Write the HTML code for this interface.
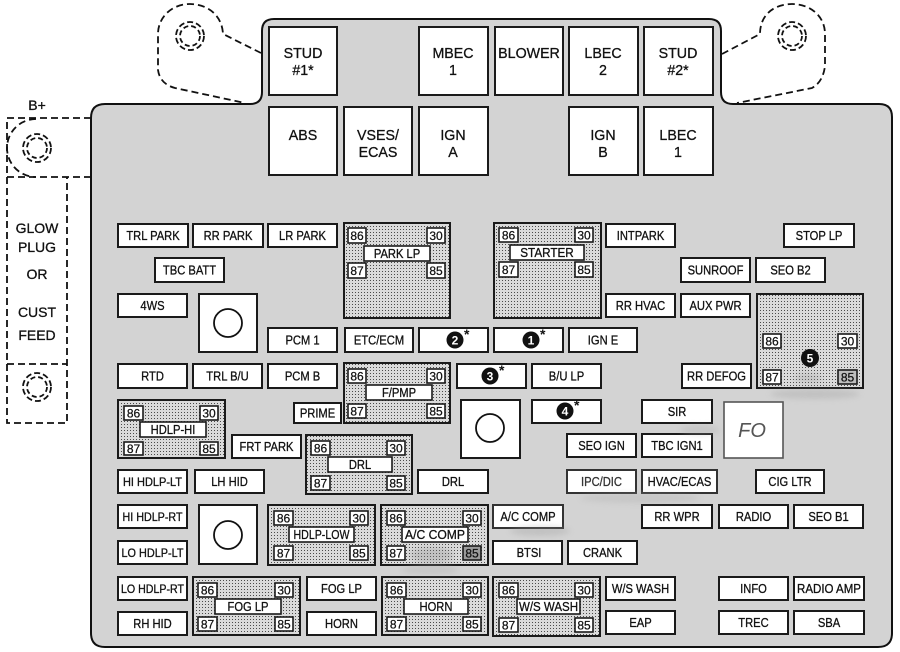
<!DOCTYPE html>
<html><head><meta charset="utf-8">
<style>
html,body{margin:0;padding:0;background:#fff;}
svg{display:block;}
.b{fill:#fff;stroke:#1a1a1a;stroke-width:2;}
.t{font-family:"Liberation Sans",Arial,sans-serif;font-size:13px;fill:#111;text-anchor:middle;stroke:#111;stroke-width:0.3px;}
.bt{font-family:"Liberation Sans",Arial,sans-serif;font-size:15px;fill:#111;text-anchor:middle;stroke:#111;stroke-width:0.3px;}
.n{font-family:"Liberation Sans",Arial,sans-serif;font-size:12px;fill:#111;text-anchor:middle;stroke:#111;stroke-width:0.25px;}
.tm{fill:#fff;stroke:#1a1a1a;stroke-width:1.6;}
.rl{fill:url(#dots);stroke:#1a1a1a;stroke-width:2;}
.d{fill:none;stroke:#111;stroke-width:1.8;stroke-dasharray:7 4;}
.lt{font-family:"Liberation Sans",Arial,sans-serif;font-size:14px;fill:#111;text-anchor:middle;stroke:#111;stroke-width:0.3px;}
.nc{font-family:"Liberation Sans",Arial,sans-serif;font-size:12px;font-weight:bold;fill:#fff;text-anchor:middle;}
.as{font-family:"Liberation Sans",Arial,sans-serif;font-size:14px;font-weight:bold;fill:#111;}
</style></head>
<body>
<svg width="900" height="652" viewBox="0 0 900 652" xmlns="http://www.w3.org/2000/svg">
<defs>
<pattern id="dots" width="3" height="3" patternUnits="userSpaceOnUse">
<rect width="3" height="3" fill="#dadada"/><rect x="1" y="1" width="1" height="1" fill="#4a4a4a"/>
</pattern>
<filter id="bl" x="-50%" y="-50%" width="200%" height="200%"><feGaussianBlur stdDeviation="3"/></filter>
</defs>

<!-- dashed lugs top -->
<path class="d" d="M261,53 L223,34 C222,14 206,4 190,4 C172,4 158,17 158,34 L158,70 Q160,84 175,88 L245,103"/>
<circle class="d" cx="190" cy="36" r="14" style="stroke-dasharray:6 3"/>
<circle class="d" cx="190" cy="36" r="10" style="stroke-dasharray:5 3"/>
<path class="d" d="M722,54 L760,34 C760,14 775,4 792,4 C810,4 825,16 825,34 L825,66 Q823,82 812,88 L737,103"/>
<circle class="d" cx="792" cy="36" r="14" style="stroke-dasharray:6 3"/>
<circle class="d" cx="792" cy="36" r="10" style="stroke-dasharray:5 3"/>

<!-- left B+ dashed area -->
<text class="lt" x="37" y="110">B+</text>
<path class="d" d="M91,118 L7,118 L7,423 L67,423 L67,177"/>
<path class="d" d="M7,177 L91,177"/>
<path class="d" d="M7,364 L67,364"/>
<path class="d" d="M36,119 A29,29 0 0 0 36,177"/>
<circle class="d" cx="37" cy="148" r="14" style="stroke-dasharray:6 3"/>
<circle class="d" cx="37" cy="148" r="10" style="stroke-dasharray:5 3"/>
<circle class="d" cx="37" cy="387" r="14" style="stroke-dasharray:6 3"/>
<circle class="d" cx="37" cy="387" r="10" style="stroke-dasharray:5 3"/>
<text class="lt" x="37" y="233">GLOW</text>
<text class="lt" x="37" y="252">PLUG</text>
<text class="lt" x="37" y="279">OR</text>
<text class="lt" x="37" y="317">CUST</text>
<text class="lt" x="37" y="340">FEED</text>

<!-- main panel -->
<path d="M105,104 L250,104 Q262,104 262,92 L262,31 Q262,19 274,19 L709,19 Q721,19 721,31 L721,92 Q721,104 733,104 L879,104 Q892,104 892,117 L892,633 Q892,647 878,647 L105,647 Q91,647 91,633 L91,118 Q91,104 105,104 Z" fill="#d3d3d3" stroke="#111" stroke-width="2"/>

<!-- big top boxes -->
<rect class="b" x="269" y="27" width="68" height="68"/>
<text class="bt" transform="translate(303,58) scale(0.95,1)">STUD</text>
<text class="bt" transform="translate(303,75) scale(0.95,1)">#1*</text>
<rect class="b" x="419" y="27" width="69" height="68"/>
<text class="bt" transform="translate(453,58) scale(0.95,1)">MBEC</text>
<text class="bt" transform="translate(453,75) scale(0.95,1)">1</text>
<rect class="b" x="495" y="27" width="68" height="68"/>
<text class="bt" transform="translate(529,58) scale(0.95,1)">BLOWER</text>
<rect class="b" x="569" y="27" width="69" height="68"/>
<text class="bt" transform="translate(603,58) scale(0.95,1)">LBEC</text>
<text class="bt" transform="translate(603,75) scale(0.95,1)">2</text>
<rect class="b" x="644" y="27" width="69" height="68"/>
<text class="bt" transform="translate(678,58) scale(0.95,1)">STUD</text>
<text class="bt" transform="translate(678,75) scale(0.95,1)">#2*</text>

<rect class="b" x="269" y="107" width="68" height="68"/>
<text class="bt" transform="translate(303,140) scale(0.95,1)">ABS</text>
<rect class="b" x="344" y="107" width="68" height="68"/>
<text class="bt" transform="translate(378,140) scale(0.95,1)">VSES/</text>
<text class="bt" transform="translate(378,157) scale(0.95,1)">ECAS</text>
<rect class="b" x="419" y="107" width="69" height="68"/>
<text class="bt" transform="translate(453,140) scale(0.95,1)">IGN</text>
<text class="bt" transform="translate(453,157) scale(0.95,1)">A</text>
<rect class="b" x="569" y="107" width="69" height="68"/>
<text class="bt" transform="translate(603,140) scale(0.95,1)">IGN</text>
<text class="bt" transform="translate(603,157) scale(0.95,1)">B</text>
<rect class="b" x="644" y="107" width="69" height="68"/>
<text class="bt" transform="translate(678,140) scale(0.95,1)">LBEC</text>
<text class="bt" transform="translate(678,157) scale(0.95,1)">1</text>

<!-- fuses -->
<rect class="b" x="118" y="224" width="70" height="23"/><text class="t" transform="translate(153,240) scale(0.86,1)">TRL PARK</text>
<rect class="b" x="193" y="224" width="70" height="23"/><text class="t" transform="translate(228,240) scale(0.86,1)">RR PARK</text>
<rect class="b" x="268" y="224" width="69" height="23"/><text class="t" transform="translate(302.5,240) scale(0.86,1)">LR PARK</text>
<rect class="b" x="606" y="224" width="69" height="23"/><text class="t" transform="translate(640.5,240) scale(0.86,1)">INTPARK</text>
<rect class="b" x="784" y="224" width="70" height="23"/><text class="t" transform="translate(819,240) scale(0.86,1)">STOP LP</text>

<rect class="b" x="155" y="258" width="69" height="24"/><text class="t" transform="translate(189.5,274.5) scale(0.86,1)">TBC BATT</text>
<rect class="b" x="681" y="258" width="69" height="24"/><text class="t" transform="translate(715.5,274.5) scale(0.86,1)">SUNROOF</text>
<rect class="b" x="756" y="258" width="69" height="24"/><text class="t" transform="translate(790.5,274.5) scale(0.86,1)">SEO B2</text>

<rect class="b" x="118" y="294" width="69" height="23"/><text class="t" transform="translate(152.5,310) scale(0.86,1)">4WS</text>
<rect class="b" x="606" y="294" width="69" height="23"/><text class="t" transform="translate(640.5,310) scale(0.86,1)">RR HVAC</text>
<rect class="b" x="681" y="294" width="69" height="23"/><text class="t" transform="translate(715.5,310) scale(0.86,1)">AUX PWR</text>

<rect class="b" x="268" y="328" width="69" height="24"/><text class="t" transform="translate(302.5,344.5) scale(0.86,1)">PCM 1</text>
<rect class="b" x="345" y="328" width="68" height="24"/><text class="t" transform="translate(379,344.5) scale(0.86,1)">ETC/ECM</text>
<rect class="b" x="419" y="328" width="69" height="24"/>
<rect class="b" x="494" y="328" width="69" height="24"/>
<rect class="b" x="569" y="328" width="68" height="24"/><text class="t" transform="translate(603,344.5) scale(0.86,1)">IGN E</text>

<rect class="b" x="118" y="364" width="69" height="24"/><text class="t" transform="translate(152.5,380.5) scale(0.86,1)">RTD</text>
<rect class="b" x="193" y="364" width="69" height="24"/><text class="t" transform="translate(227.5,380.5) scale(0.86,1)">TRL B/U</text>
<rect class="b" x="268" y="364" width="69" height="24"/><text class="t" transform="translate(302.5,380.5) scale(0.86,1)">PCM B</text>
<rect class="b" x="457" y="364" width="69" height="24"/>
<rect class="b" x="532" y="364" width="69" height="24"/><text class="t" transform="translate(566.5,380.5) scale(0.86,1)">B/U LP</text>
<rect class="b" x="682" y="364" width="69" height="24"/><text class="t" transform="translate(716.5,380.5) scale(0.86,1)">RR DEFOG</text>

<rect class="b" x="294" y="403" width="47" height="20"/><text class="t" transform="translate(317.5,417.5) scale(0.86,1)">PRIME</text>
<rect class="b" x="532" y="400" width="69" height="23"/>
<rect class="b" x="642" y="400" width="70" height="23"/><text class="t" transform="translate(677,416) scale(0.86,1)">SIR</text>
<rect class="b" x="232" y="435" width="69" height="23"/><text class="t" transform="translate(266.5,451) scale(0.86,1)">FRT PARK</text>
<rect class="b" x="567" y="434" width="69" height="23"/><text class="t" transform="translate(601.5,450) scale(0.86,1)">SEO IGN</text>
<rect class="b" x="642" y="434" width="70" height="23"/><text class="t" transform="translate(677,450) scale(0.86,1)">TBC IGN1</text>

<rect class="b" x="118" y="470" width="69" height="23"/><text class="t" x="152.5" y="486" textLength="59" lengthAdjust="spacingAndGlyphs" style="font-size:12px">HI HDLP-LT</text>
<rect class="b" x="195" y="470" width="69" height="23"/><text class="t" transform="translate(229.5,486) scale(0.86,1)">LH HID</text>
<rect class="b" x="418" y="470" width="70" height="23"/><text class="t" transform="translate(453,486) scale(0.86,1)">DRL</text>
<rect class="b" x="567" y="470" width="69" height="23" style="stroke:#333"/><text class="t" transform="translate(601.5,486) scale(0.86,1)" style="fill:#333;stroke:#333">IPC/DIC</text>
<rect class="b" x="642" y="470" width="75" height="23" style="stroke:#333"/><text class="t" transform="translate(679.5,486) scale(0.86,1)">HVAC/ECAS</text>
<rect class="b" x="756" y="470" width="68" height="23"/><text class="t" transform="translate(790,486) scale(0.86,1)">CIG LTR</text>

<rect class="b" x="118" y="505" width="69" height="23"/><text class="t" x="152.5" y="521" textLength="60" lengthAdjust="spacingAndGlyphs" style="font-size:12px">HI HDLP-RT</text>
<rect class="b" x="493" y="505" width="70" height="23" style="stroke:#333"/><text class="t" transform="translate(528,521) scale(0.86,1)">A/C COMP</text>
<rect class="b" x="642" y="505" width="70" height="23"/><text class="t" transform="translate(677,521) scale(0.86,1)">RR WPR</text>
<rect class="b" x="719" y="505" width="69" height="23"/><text class="t" transform="translate(753.5,521) scale(0.86,1)">RADIO</text>
<rect class="b" x="794" y="505" width="69" height="23"/><text class="t" transform="translate(828.5,521) scale(0.86,1)">SEO B1</text>

<rect class="b" x="118" y="541" width="69" height="23"/><text class="t" x="152.5" y="557" textLength="62" lengthAdjust="spacingAndGlyphs" style="font-size:12px">LO HDLP-LT</text>
<rect class="b" x="493" y="541" width="69" height="23"/><text class="t" transform="translate(529,557) scale(0.86,1)">BTSI</text>
<rect class="b" x="568" y="541" width="69" height="23"/><text class="t" transform="translate(602.5,557) scale(0.86,1)">CRANK</text>

<rect class="b" x="118" y="577" width="69" height="23"/><text class="t" x="152.5" y="593" textLength="63" lengthAdjust="spacingAndGlyphs" style="font-size:12px">LO HDLP-RT</text>
<rect class="b" x="307" y="577" width="69" height="23"/><text class="t" transform="translate(341.5,593) scale(0.86,1)">FOG LP</text>
<rect class="b" x="606" y="577" width="69" height="23"/><text class="t" transform="translate(640.5,593) scale(0.86,1)">W/S WASH</text>
<rect class="b" x="719" y="577" width="69" height="23"/><text class="t" transform="translate(753.5,593) scale(0.86,1)">INFO</text>
<rect class="b" x="794" y="577" width="70" height="23"/><text class="t" x="829" y="593" textLength="64" lengthAdjust="spacingAndGlyphs" style="font-size:12.5px">RADIO AMP</text>

<rect class="b" x="118" y="612" width="69" height="23"/><text class="t" transform="translate(152.5,628) scale(0.86,1)">RH HID</text>
<rect class="b" x="307" y="612" width="69" height="23"/><text class="t" transform="translate(341.5,628) scale(0.86,1)">HORN</text>
<rect class="b" x="606" y="611" width="69" height="23"/><text class="t" transform="translate(640.5,627) scale(0.86,1)">EAP</text>
<rect class="b" x="719" y="611" width="69" height="23"/><text class="t" transform="translate(753.5,627) scale(0.86,1)">TREC</text>
<rect class="b" x="794" y="611" width="70" height="23"/><text class="t" transform="translate(829,627) scale(0.86,1)">SBA</text>

<!-- circle squares -->
<rect class="b" x="199" y="294" width="58" height="58"/><circle cx="228" cy="323" r="14" fill="#fff" stroke="#111" stroke-width="1.8"/>
<rect class="b" x="461" y="400" width="59" height="58"/><circle cx="490" cy="428" r="14" fill="#fff" stroke="#111" stroke-width="1.8"/>
<rect class="b" x="199" y="505" width="58" height="59"/><circle cx="228" cy="535" r="14" fill="#fff" stroke="#111" stroke-width="1.8"/>

<!-- smudged box right of SIR -->
<rect x="724" y="402" width="59" height="56" fill="#fff" stroke="#555" stroke-width="1.6"/>
<text x="752" y="437" style="font-family:'Liberation Sans',sans-serif;font-size:20px;font-style:italic;fill:#555;text-anchor:middle">FO</text>

<!-- numbered circles -->
<circle cx="455" cy="340" r="8.5" fill="#111"/><text class="nc" x="455" y="344.5">2</text><text class="as" x="464" y="339">*</text>
<circle cx="531" cy="340" r="8.5" fill="#111"/><text class="nc" x="531" y="344.5">1</text><text class="as" x="540" y="339">*</text>
<circle cx="490" cy="376" r="8.5" fill="#111"/><text class="nc" x="490" y="380.5">3</text><text class="as" x="499" y="375">*</text>
<circle cx="565" cy="411" r="8.5" fill="#111"/><text class="nc" x="565" y="415.5">4</text><text class="as" x="574" y="410">*</text>

<!-- relays -->
<!-- PARK LP -->
<rect class="rl" x="344" y="223" width="106" height="95"/>
<rect class="tm" x="348" y="228" width="18" height="15"/><text class="n" x="357" y="240">86</text>
<rect class="tm" x="427" y="228" width="18" height="15"/><text class="n" x="436" y="240">30</text>
<rect class="tm" x="364" y="246" width="66" height="15"/><text class="t" transform="translate(397,258) scale(0.86,1)">PARK LP</text>
<rect class="tm" x="348" y="263" width="18" height="15"/><text class="n" x="357" y="275">87</text>
<rect class="tm" x="427" y="263" width="18" height="15"/><text class="n" x="436" y="275">85</text>

<!-- STARTER -->
<rect class="rl" x="494" y="223" width="107" height="95"/>
<rect class="tm" x="499" y="228" width="19" height="14"/><text class="n" x="508.5" y="239.5">86</text>
<rect class="tm" x="575" y="228" width="18" height="14"/><text class="n" x="584" y="239.5">30</text>
<rect class="tm" x="510" y="245" width="74" height="15"/><text class="t" transform="translate(547,257) scale(0.9,1)">STARTER</text>
<rect class="tm" x="499" y="262" width="19" height="15"/><text class="n" x="508.5" y="274">87</text>
<rect class="tm" x="575" y="262" width="18" height="15"/><text class="n" x="584" y="274">85</text>

<!-- F/PMP -->
<rect class="rl" x="344" y="363" width="106" height="60"/>
<rect class="tm" x="348" y="369" width="18" height="14"/><text class="n" x="357" y="380.5">86</text>
<rect class="tm" x="427" y="369" width="18" height="14"/><text class="n" x="436" y="380.5">30</text>
<rect class="tm" x="366" y="385" width="66" height="15"/><text class="t" transform="translate(399,397) scale(0.86,1)">F/PMP</text>
<rect class="tm" x="348" y="404" width="18" height="14"/><text class="n" x="357" y="415.5">87</text>
<rect class="tm" x="427" y="404" width="18" height="14"/><text class="n" x="436" y="415.5">85</text>

<!-- HDLP-HI -->
<rect class="rl" x="118" y="400" width="107" height="58"/>
<rect class="tm" x="124" y="406" width="19" height="14"/><text class="n" x="133.5" y="417.5">86</text>
<rect class="tm" x="200" y="406" width="18" height="14"/><text class="n" x="209" y="417.5">30</text>
<rect class="tm" x="140" y="422" width="66" height="15"/><text class="t" transform="translate(173,434) scale(0.86,1)">HDLP-HI</text>
<rect class="tm" x="124" y="442" width="19" height="13"/><text class="n" x="133.5" y="453">87</text>
<rect class="tm" x="200" y="442" width="18" height="13"/><text class="n" x="209" y="453">85</text>

<!-- DRL relay -->
<rect class="rl" x="306" y="435" width="106" height="59"/>
<rect class="tm" x="311" y="441" width="19" height="14"/><text class="n" x="320.5" y="452.5">86</text>
<rect class="tm" x="387" y="441" width="18" height="14"/><text class="n" x="396" y="452.5">30</text>
<rect class="tm" x="328" y="457" width="64" height="15"/><text class="t" transform="translate(360,469) scale(0.86,1)">DRL</text>
<rect class="tm" x="311" y="476" width="19" height="14"/><text class="n" x="320.5" y="487.5">87</text>
<rect class="tm" x="387" y="476" width="18" height="14"/><text class="n" x="396" y="487.5">85</text>

<!-- HDLP-LOW -->
<rect class="rl" x="268" y="505" width="107" height="60"/>
<rect class="tm" x="274" y="511" width="19" height="14"/><text class="n" x="283.5" y="522.5">86</text>
<rect class="tm" x="350" y="511" width="18" height="14"/><text class="n" x="359" y="522.5">30</text>
<rect class="tm" x="289" y="527" width="65" height="15"/><text class="t" x="321.5" y="539" textLength="56" lengthAdjust="spacingAndGlyphs">HDLP-LOW</text>
<rect class="tm" x="274" y="546" width="19" height="14"/><text class="n" x="283.5" y="557.5">87</text>
<rect class="tm" x="350" y="546" width="18" height="14"/><text class="n" x="359" y="557.5">85</text>

<!-- A/C COMP relay -->
<rect class="rl" x="381" y="505" width="107" height="60"/>
<rect class="tm" x="387" y="511" width="18" height="14"/><text class="n" x="396" y="522.5">86</text>
<rect class="tm" x="463" y="511" width="18" height="14"/><text class="n" x="472" y="522.5">30</text>
<rect class="tm" x="402" y="527" width="66" height="15"/><text class="t" x="435" y="539" textLength="60" lengthAdjust="spacingAndGlyphs">A/C COMP</text>
<rect class="tm" x="387" y="546" width="18" height="14"/><text class="n" x="396" y="557.5">87</text>
<rect class="tm" x="463" y="546" width="18" height="14" style="fill:#9a9a9a"/><text class="n" x="472" y="557.5">85</text>

<!-- FOG LP relay -->
<rect class="rl" x="193" y="577" width="107" height="58"/>
<rect class="tm" x="198" y="583" width="19" height="14"/><text class="n" x="207.5" y="594.5">86</text>
<rect class="tm" x="275" y="583" width="18" height="14"/><text class="n" x="284" y="594.5">30</text>
<rect class="tm" x="215" y="599" width="66" height="15"/><text class="t" transform="translate(248,611) scale(0.86,1)">FOG LP</text>
<rect class="tm" x="198" y="617" width="19" height="14"/><text class="n" x="207.5" y="628.5">87</text>
<rect class="tm" x="275" y="617" width="18" height="14"/><text class="n" x="284" y="628.5">85</text>

<!-- HORN relay -->
<rect class="rl" x="382" y="577" width="106" height="58"/>
<rect class="tm" x="387" y="583" width="19" height="14"/><text class="n" x="396.5" y="594.5">86</text>
<rect class="tm" x="463" y="583" width="18" height="14"/><text class="n" x="472" y="594.5">30</text>
<rect class="tm" x="404" y="599" width="64" height="15"/><text class="t" transform="translate(436,611) scale(0.86,1)">HORN</text>
<rect class="tm" x="387" y="617" width="19" height="14"/><text class="n" x="396.5" y="628.5">87</text>
<rect class="tm" x="463" y="617" width="18" height="14"/><text class="n" x="472" y="628.5">85</text>

<!-- W/S WASH relay -->
<rect class="rl" x="493" y="577" width="107" height="59"/>
<rect class="tm" x="499" y="583" width="19" height="14"/><text class="n" x="508.5" y="594.5">86</text>
<rect class="tm" x="575" y="583" width="18" height="14"/><text class="n" x="584" y="594.5">30</text>
<rect class="tm" x="517" y="599" width="63" height="15"/><text class="t" x="548.5" y="611" textLength="59" lengthAdjust="spacingAndGlyphs">W/S WASH</text>
<rect class="tm" x="499" y="618" width="19" height="14"/><text class="n" x="508.5" y="629.5">87</text>
<rect class="tm" x="575" y="618" width="18" height="14"/><text class="n" x="584" y="629.5">85</text>

<!-- relay 5 -->
<rect class="rl" x="757" y="294" width="106" height="94"/>
<rect class="tm" x="763" y="334" width="18" height="14"/><text class="n" x="772" y="345.5">86</text>
<rect class="tm" x="838" y="334" width="19" height="14"/><text class="n" x="847.5" y="345.5">30</text>
<rect class="tm" x="763" y="370" width="18" height="14"/><text class="n" x="772" y="381.5">87</text>
<rect class="tm" x="838" y="370" width="19" height="14" style="fill:#bdbdbd"/><text class="n" x="847.5" y="381.5">85</text>
<circle cx="810" cy="358" r="9" fill="#111"/><text class="nc" x="810" y="362.5">5</text>

<!-- smudges (subtle) -->
<g filter="url(#bl)" opacity="0.3">
<ellipse cx="432" cy="555" rx="22" ry="8" fill="#888"/>
<ellipse cx="540" cy="531" rx="30" ry="5" fill="#999"/>
<ellipse cx="430" cy="570" rx="28" ry="5" fill="#aaa"/>
<ellipse cx="640" cy="498" rx="60" ry="5" fill="#aaa"/>
<ellipse cx="700" cy="430" rx="20" ry="5" fill="#aaa"/>
<ellipse cx="815" cy="394" rx="45" ry="5" fill="#999"/>
<ellipse cx="808" cy="378" rx="14" ry="5" fill="#999"/>
</g>
</svg>
</body></html>
